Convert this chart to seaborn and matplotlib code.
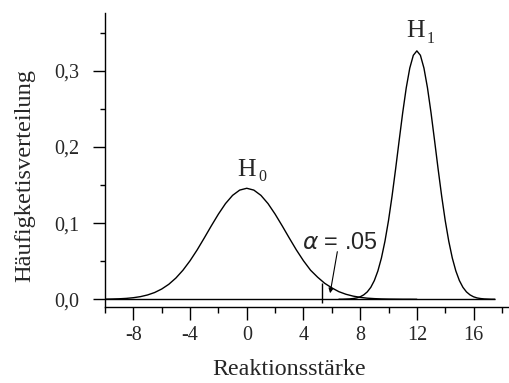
import numpy as np
import pandas as pd
import matplotlib
matplotlib.use("Agg")
import matplotlib.pyplot as plt
import seaborn as sns

# --- data ---
h0_x = [-10.0, -9.5, -9.0, -8.5, -8.0, -7.5, -7.0, -6.5, -6.0, -5.5,
        -5.0, -4.5, -4.0, -3.5, -3.0, -2.5, -2.0, -1.5, -1.0, -0.5,
        0.0, 0.5, 1.0, 1.5, 2.0, 2.5, 3.0, 3.5, 4.0, 4.5,
        5.0, 5.5, 6.0, 6.5, 7.0, 7.5, 8.0, 8.5, 9.0, 9.5,
        10.0, 10.5, 11.0, 11.5, 12.0]
h0_y = [0.0002, 0.0004, 0.0007, 0.0012, 0.0021, 0.0035, 0.0057, 0.0089, 0.0135, 0.0197,
        0.0279, 0.0382, 0.0506, 0.0648, 0.0804, 0.0964, 0.1118, 0.1256, 0.1364, 0.1433,
        0.1457, 0.1433, 0.1364, 0.1256, 0.1118, 0.0964, 0.0804, 0.0648, 0.0506, 0.0382,
        0.0290, 0.0210, 0.0150, 0.0100, 0.0066, 0.0042, 0.0026, 0.0015, 0.0009, 0.0005,
        0.0003, 0.0002, 0.0001, 0.0001, 0.0]

h1_x = [6.5, 6.75, 7.0, 7.25, 7.5, 7.75, 8.0, 8.25, 8.5, 8.75,
        9.0, 9.25, 9.5, 9.75, 10.0, 10.25, 10.5, 10.75, 11.0, 11.25,
        11.5, 11.75, 12.0, 12.25, 12.5, 12.75, 13.0, 13.25, 13.5, 13.75,
        14.0, 14.25, 14.5, 14.75, 15.0, 15.25, 15.5, 15.75, 16.0, 16.25,
        16.5, 16.75, 17.0, 17.25, 17.5]
h1_y = [0.0001, 0.0001, 0.0003, 0.0005, 0.0010, 0.0018, 0.0033, 0.0058, 0.0097, 0.0157,
        0.0246, 0.0372, 0.0542, 0.0763, 0.1034, 0.1354, 0.1709, 0.2082, 0.2447, 0.2774,
        0.3034, 0.3202, 0.3260, 0.3202, 0.3034, 0.2774, 0.2447, 0.2082, 0.1709, 0.1354,
        0.1034, 0.0763, 0.0542, 0.0372, 0.0246, 0.0157, 0.0097, 0.0058, 0.0033, 0.0018,
        0.0010, 0.0005, 0.0003, 0.0001, 0.0001]

x_major = [-8, -4, 0, 4, 8, 12, 16]
x_minor = [-10, -6, -2, 2, 6, 10, 14, 18]
y_major = [0.0, 0.1, 0.2, 0.3]
y_labels = ["0,0", "0,1", "0,2", "0,3"]
y_minor = [0.05, 0.15, 0.25, 0.35]

alpha_crit = 5.34
alpha_text = "$\\alpha$ = .05"

df0 = pd.DataFrame({"x": h0_x, "y": h0_y})
df1 = pd.DataFrame({"x": h1_x, "y": h1_y})

# --- style ---
sns.set_style("ticks")
plt.rcParams["font.family"] = ["Liberation Serif", "DejaVu Serif"]
plt.rcParams["axes.linewidth"] = 1.0
plt.rcParams["axes.unicode_minus"] = False

fig = plt.figure(figsize=(5.09, 3.83), dpi=100)
ax = fig.add_axes([105 / 509, (383 - 306.7) / 383, 404 / 509, (306.7 - 13) / 383])

sns.lineplot(data=df0, x="x", y="y", color="black", lw=1.0, ax=ax)
sns.lineplot(data=df1, x="x", y="y", color="black", lw=1.0, ax=ax)
ax.hlines(0, -10, 17.5, color="black", lw=1.0)

ax.set_xlim(-10, 18.5)
ax.set_ylim(-0.0097, 0.3757)

ax.set_xticks(x_major)
ax.set_xticks(x_minor, minor=True)
ax.set_yticks(y_major)
ax.set_yticklabels(y_labels)
ax.set_yticks(y_minor, minor=True)

ax.tick_params(axis="x", which="major", length=9, width=1, labelsize=14.5, pad=5, color="black")
ax.tick_params(axis="x", which="minor", length=4.3, width=1, color="black")
ax.tick_params(axis="y", which="major", length=8.6, width=1, labelsize=14.5, pad=10, color="black")
ax.tick_params(axis="y", which="minor", length=3.6, width=1, color="black")

for s in ["top", "right"]:
    ax.spines[s].set_visible(False)
for s in ["left", "bottom"]:
    ax.spines[s].set_color("black")

ax.set_xlabel("Reaktionsstärke", fontsize=17.3)
ax.set_ylabel("Häufigketisverteilung", fontsize=17.6)
ax.xaxis.set_label_coords(0.456, -0.178)
ax.yaxis.set_label_coords(-0.172, 0.4457)

# H labels
ax.text(-0.02, 0.1618, "H", fontsize=18.5, ha="center", va="baseline")
ax.text(1.08, 0.1556, "0", fontsize=11.5, ha="center", va="baseline")
ax.text(11.91, 0.3446, "H", fontsize=18.5, ha="center", va="baseline")
ax.text(13.0, 0.3364, "1", fontsize=11.5, ha="center", va="baseline")

# alpha marker
ax.vlines(alpha_crit, -0.0055, 0.021, color="black", lw=1.0)
ax.annotate("", xy=(5.88, 0.008), xytext=(6.39, 0.0625),
            arrowprops=dict(arrowstyle="-|>", lw=0.8, color="black", mutation_scale=7,
                            shrinkA=0, shrinkB=0))
ax.text(6.58, 0.074, alpha_text, fontsize=16.8, ha="center", va="center",
        family=["Liberation Sans", "DejaVu Sans"])

fig.savefig("out.png", dpi=100)
